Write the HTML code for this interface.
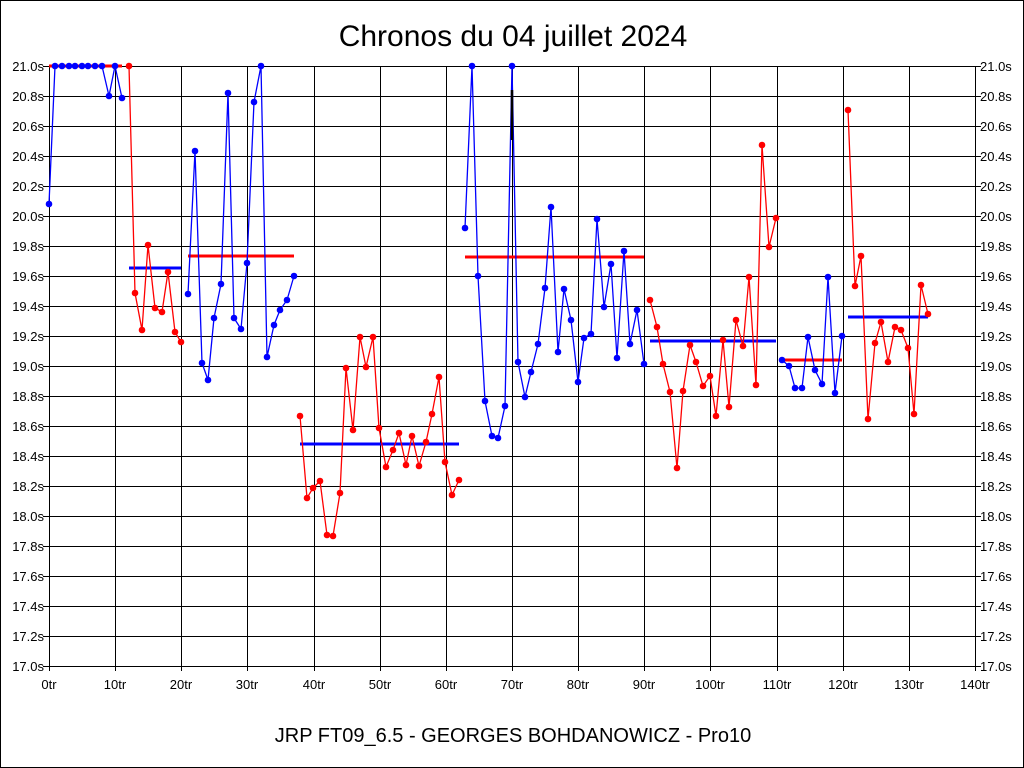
<!DOCTYPE html>
<html><head><meta charset="utf-8"><style>body{margin:0;background:#fff}svg{display:block;font-family:"Liberation Sans",sans-serif}</style></head><body>
<svg width="1024" height="768" xmlns="http://www.w3.org/2000/svg">
<rect x="0" y="0" width="1024" height="768" fill="#fff"/>
<rect x="0.5" y="0.5" width="1023" height="767" fill="none" stroke="#000"/>
<text x="513" y="46" font-size="30" text-anchor="middle">Chronos du 04 juillet 2024</text>
<text x="513" y="742" font-size="20" text-anchor="middle">JRP FT09_6.5 - GEORGES BOHDANOWICZ - Pro10</text>
<g id="grid" stroke="#000" stroke-width="1"></g>
<g id="lab" font-size="13"></g>
<g id="data"></g>
</svg>
<script>
const NS="http://www.w3.org/2000/svg";
function el(p,t,a,txt){const e=document.createElementNS(NS,t);for(const k in a)e.setAttribute(k,a[k]);if(txt!=null)e.textContent=txt;p.appendChild(e);return e;}
const g=document.getElementById('grid'),l=document.getElementById('lab'),d=document.getElementById('data');
for(let i=0;i<=20;i++){const y=66+i*30;el(g,'line',{x1:43,x2:981,y1:y+.5,y2:y+.5});
 const v=(21-i*0.2).toFixed(1)+'s';el(l,'text',{x:44,y:y+5,'text-anchor':'end'},v);el(l,'text',{x:980,y:y+5},v);}
for(let i=0;i<=14;i++){const x=Math.round(49+i*66.14);el(g,'line',{x1:x+.5,x2:x+.5,y1:66,y2:671});
 el(l,'text',{x:x,y:689,'text-anchor':'middle'},(i*10)+'tr');}
el(g,'line',{x1:49,x2:975,y1:666.5,y2:666.5});el(g,'line',{x1:975.5,x2:975.5,y1:66,y2:671});
function ser(pts,c){el(d,'polyline',{points:pts.map(p=>p.join(',')).join(' '),fill:'none',stroke:c,'stroke-width':1.3});
 pts.forEach(p=>el(d,'circle',{cx:p[0],cy:p[1],r:3.3,fill:c}));}
function bar(x1,x2,y,c){el(d,'line',{x1:x1,x2:x2,y1:y,y2:y,stroke:c,'stroke-width':3});}
bar(49,122,66,'red');bar(129,181,268,'blue');bar(188,294,256,'red');bar(300,459,444,'blue');bar(465,644,257,'red');bar(650,776,341,'blue');bar(782,842,360,'red');bar(848,928,317,'blue');
ser([[49,204],[55,66],[62,66],[69,66],[75,66],[82,66],[88,66],[95,66],[102,66],[109,96],[115,66],[122,98]],'blue');
ser([[129,66],[135,293],[142,330],[148,245],[155,308],[162,312],[168,272],[175,332],[181,342]],'red');
ser([[188,294],[195,151],[202,363],[208,380],[214,318],[221,284],[228,93],[234,318],[241,329],[247,263],[254,102],[261,66],[267,357],[274,325],[280,310],[287,300],[294,276]],'blue');
ser([[300,416],[307,498],[313,488],[320,481],[327,535],[333,536],[340,493],[346,368],[353,430],[360,337],[366,367],[373,337],[379,428],[386,467],[393,450],[399,433],[406,465],[412,436],[419,466],[426,442],[432,414],[439,377],[445,462],[452,495],[459,480]],'red');
ser([[465,228],[472,66],[478,276],[485,401],[492,436],[498,438],[505,406],[512,66],[518,362],[525,397],[531,372],[538,344],[545,288],[551,207],[558,352],[564,289],[571,320],[578,382],[584,338],[591,334],[597,219],[604,307],[611,264],[617,358],[624,251],[630,344],[637,310],[644,364]],'blue');
el(d,'line',{x1:512,x2:512,y1:90,y2:140,stroke:'#000','stroke-width':2.5});
ser([[650,300],[657,327],[663,364],[670,392],[677,468],[683,391],[690,345],[696,362],[703,386],[710,376],[716,416],[723,340],[729,407],[736,320],[743,346],[749,277],[756,385],[762,145],[769,247],[776,218]],'red');
ser([[782,360],[789,366],[795,388],[802,388],[808,337],[815,370],[822,384],[828,277],[835,393],[842,336]],'blue');
ser([[848,110],[855,286],[861,256],[868,419],[875,343],[881,322],[888,362],[895,327],[901,330],[908,348],[914,414],[921,285],[928,314]],'red');
</script>
</body></html>
